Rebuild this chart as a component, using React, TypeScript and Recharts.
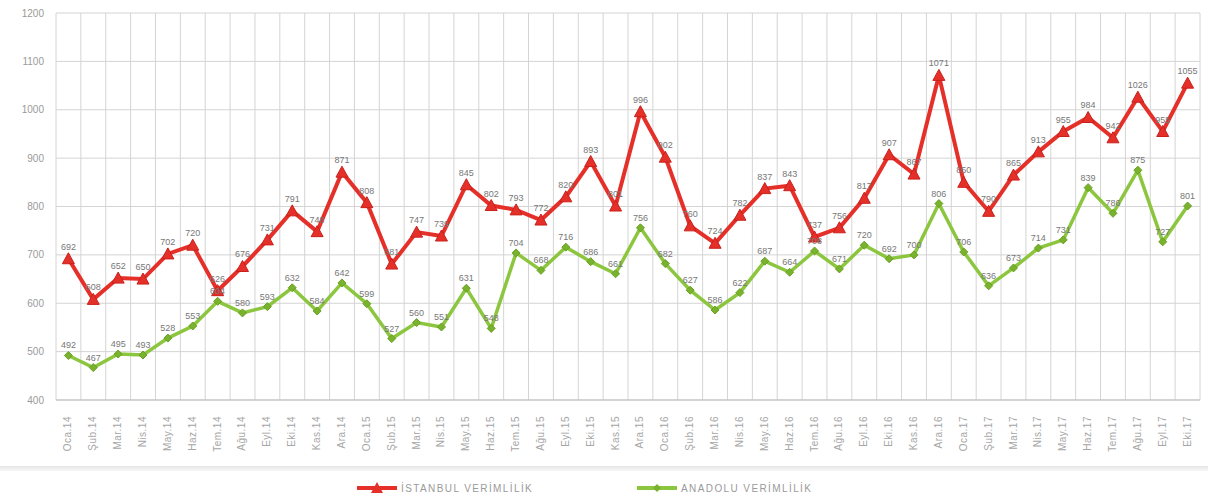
import React from "react";
import { CartesianGrid, LabelList, Line, LineChart, XAxis, YAxis } from "recharts";

const months = ["Oca", "Şub", "Mar", "Nis", "May", "Haz", "Tem", "Ağu", "Eyl", "Eki", "Kas", "Ara"];
const years = ["14", "15", "16", "17"];

// 46 ay: Oca.14 - Eki.17
const categories: string[] = [];
years.forEach((yy) => months.forEach((m) => categories.push(`${m}.${yy}`)));
categories.length = 46;

const istanbul = [
  692, 608, 652, 650, 702, 720, 626, 676, 731, 791, 748, 871, 808, 681, 747, 739, 845, 802, 793, 772,
  820, 893, 801, 996, 902, 760, 724, 782, 837, 843, 737, 756, 817, 907, 867, 1071, 850, 790, 865, 913,
  955, 984, 942, 1026, 955, 1055,
];

const anadolu = [
  492, 467, 495, 493, 528, 553, 604, 580, 593, 632, 584, 642, 599, 527, 560, 551, 631, 548, 704, 668,
  716, 686, 661, 756, 682, 627, 586, 622, 687, 664, 708, 671, 720, 692, 700, 806, 706, 636, 673, 714,
  731, 839, 786, 875, 727, 801,
];

const yTicks = [400, 500, 600, 700, 800, 900, 1000, 1100, 1200];

const data = categories.map((c, i) => ({ month: c, istanbul: istanbul[i], anadolu: anadolu[i] }));

const RED = "#e5302a";
const GREEN = "#8cc63f";

function Triangle(props: any) {
  const { cx, cy } = props;
  if (cx == null || cy == null) return null;
  return <path d={`M${cx},${cy - 6} L${cx + 6},${cy + 5} L${cx - 6},${cy + 5} Z`} fill={RED} stroke="#c8201b" strokeWidth={1} />;
}

function Diamond(props: any) {
  const { cx, cy } = props;
  if (cx == null || cy == null) return null;
  return <path d={`M${cx},${cy - 4} L${cx + 4},${cy} L${cx},${cy + 4} L${cx - 4},${cy} Z`} fill="#79b22c" stroke="#6aa125" strokeWidth={1} />;
}

function MonthTick(props: any) {
  const { x, y, payload } = props;
  return (
    <g transform={`translate(${x},${y + 8})`}>
      <text transform="rotate(-90)" textAnchor="end" dy={3} fontSize={10} fill="#a6a6a6" letterSpacing={0.5}>
        {payload.value}
      </text>
    </g>
  );
}

function gridX({ offset }: any) {
  const out: number[] = [];
  for (let k = 0; k <= categories.length; k++) out.push(offset.left + (k * offset.width) / categories.length);
  return out;
}

function LegendItem({ color, label, marker, left }: { color: string; label: string; marker: "tri" | "dia"; left: number }) {
  return (
    <div style={{ position: "absolute", top: 481, left, display: "flex", alignItems: "center" }}>
      <svg width={42} height={14}>
        <line x1={1} y1={7} x2={41} y2={7} stroke={color} strokeWidth={4} />
        {marker === "tri" ? (
          <path d="M21,1 L27,12 L15,12 Z" fill={color} />
        ) : (
          <path d="M21,3 L25,7 L21,11 L17,7 Z" fill="#79b22c" />
        )}
      </svg>
      <span style={{ fontSize: 10, color: "#9a9a9a", letterSpacing: 1.4, marginLeft: 3, whiteSpace: "nowrap" }}>
        {label}
      </span>
    </div>
  );
}

export default function App() {
  return (
    <div
      style={{
        position: "absolute",
        left: 0,
        top: 0,
        width: 1208,
        height: 499,
        background: "#fff",
        fontFamily: "'Liberation Sans', Arial, sans-serif",
      }}
    >
      <LineChart width={1208} height={470} data={data} margin={{ top: 13, right: 8, left: 0, bottom: 0 }}>
        <CartesianGrid stroke="#d4d4d4" verticalCoordinatesGenerator={gridX} />
        <XAxis
          dataKey="month"
          interval={0}
          height={70}
          padding={{ left: 12.4, right: 12.4 }}
          tick={<MonthTick />}
          tickLine={false}
          axisLine={{ stroke: "#bdbdbd" }}
        />
        <YAxis
          width={56}
          domain={[400, 1200]}
          ticks={yTicks}
          tickLine={false}
          axisLine={false}
          tickMargin={6}
          tick={{ fontSize: 10, fill: "#9a9a9a" }}
        />
        <Line
          dataKey="anadolu"
          stroke={GREEN}
          strokeWidth={3.5}
          dot={<Diamond />}
          isAnimationActive={false}
        >
          <LabelList dataKey="anadolu" position="top" offset={7} fontSize={9} fill="#777" />
        </Line>
        <Line
          dataKey="istanbul"
          stroke={RED}
          strokeWidth={4}
          dot={<Triangle />}
          isAnimationActive={false}
        >
          <LabelList dataKey="istanbul" position="top" offset={9} fontSize={9} fill="#777" />
        </Line>
      </LineChart>
      <div
        style={{
          position: "absolute",
          left: 0,
          top: 466,
          width: 1208,
          height: 5,
          background: "linear-gradient(#e6e6e6, #f7f7f7)",
        }}
      />
      <LegendItem color={RED} label="İSTANBUL VERİMLİLİK" marker="tri" left={356} />
      <LegendItem color={GREEN} label="ANADOLU VERİMLİLİK" marker="dia" left={636} />
    </div>
  );
}
